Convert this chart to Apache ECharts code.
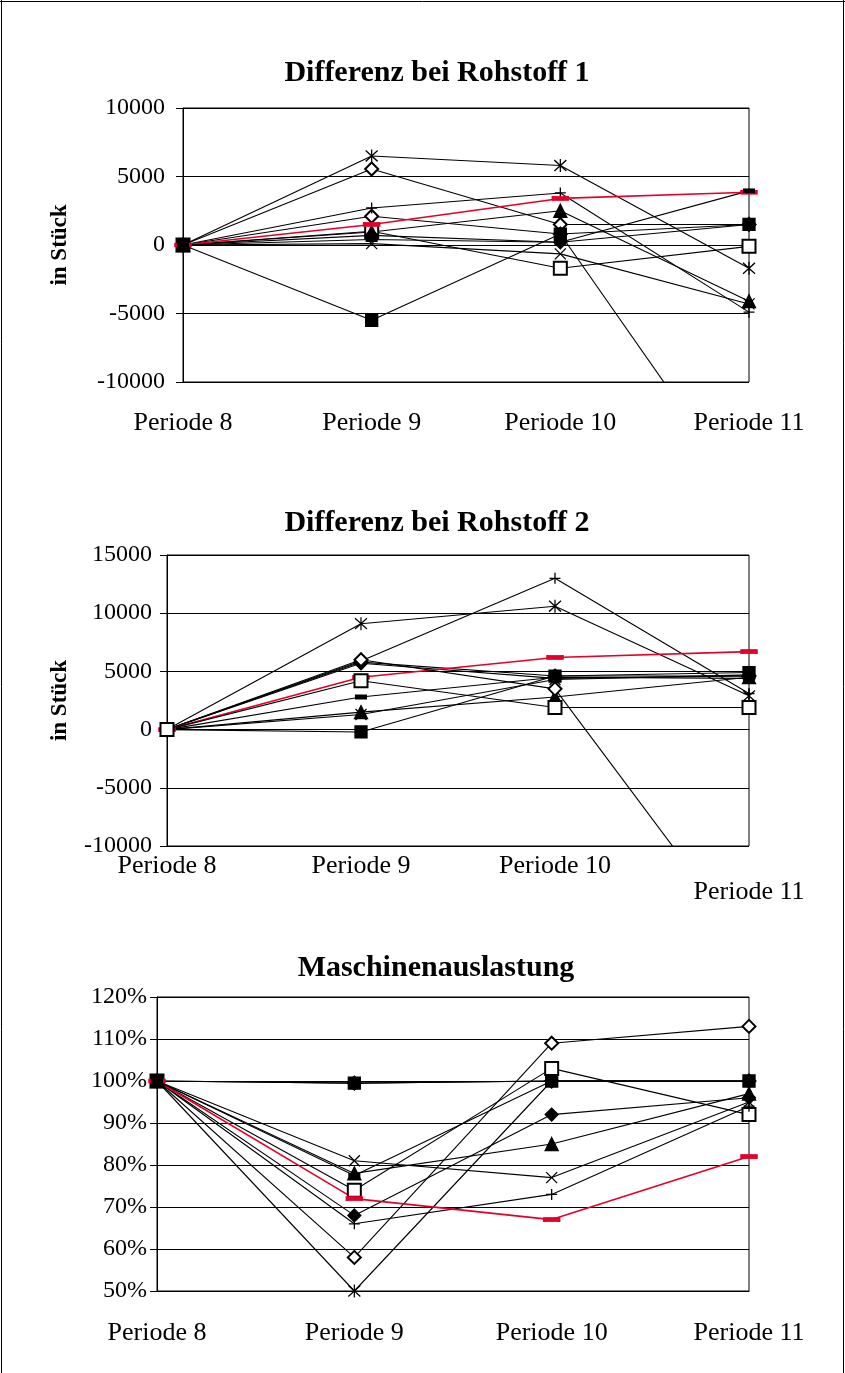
<!DOCTYPE html>
<html>
<head>
<meta charset="utf-8">
<title>Rohstoffe und Maschinenauslastung</title>
<script type="text/javascript" src="https://cdn.jsdelivr.net/npm/echarts@6/dist/echarts.min.js" charset="utf-8"></script>
<style>
	html, body { margin: 0; padding: 0; background: #fff; }
	#main { width: 845px; height: 1373px; }
</style>
</head>
<body>
	<div id="main"></div>
</body>
<script type="text/javascript" charset="utf-8">
	var categories = ['Periode 8', 'Periode 9', 'Periode 10', 'Periode 11'];

	// Differenz bei Rohstoff 1 (in Stück)
	var r1_karoLeer2 = [0, 5550, 1500, 1500];
	var r1_karo = [0, 700, 200, 1500];
	var r1_quadrat = [0, -5500, 800, 1500];
	var r1_dreieck = [0, 950, 2500, -4100];
	var r1_kreuz = [0, 100, -650, -4300];
	var r1_stern = [0, 6500, 5800, -1700];
	var r1_plus = [0, 2700, 3800, -4900];
	var r1_rot = [0, 1500, 3400, 3850];
	var r1_strich = [0, 400, 200, 3950];
	var r1_karoLeer = [0, 2100, 800, -18900];
	var r1_quadratLeer = [0, 1000, -1700, -100];

	// Differenz bei Rohstoff 2 (in Stück)
	var r2_karoLeer2 = [0, 5800, 4600, 4600];
	var r2_karo = [0, 5700, 4400, 4600];
	var r2_quadrat = [0, -200, 4600, 4900];
	var r2_dreieck = [0, 1500, 2800, 4500];
	var r2_kreuz = [0, 1300, 4300, 4700];
	var r2_stern = [0, 9100, 10600, 2900];
	var r2_plus = [0, 5900, 13000, 3100];
	var r2_rot = [0, 4500, 6200, 6700];
	var r2_strich = [0, 2800, 4500, 4400];
	var r2_karoLeer = [0, 6000, 3500, -18800];
	var r2_quadratLeer = [0, 4200, 1900, 1900];

	// Maschinenauslastung (in %)
	var m_karoLeer2 = [100, 99.5, 100, 100];
	var m_karo = [100, 68, 92, 96];
	var m_quadrat = [100, 99.5, 100, 100];
	var m_dreieck = [100, 78, 85, 97];
	var m_kreuz = [100, 81, 77, 95];
	var m_stern = [100, 50, 100, 100];
	var m_plus = [100, 66, 73, 94];
	var m_rot = [100, 72, 67, 82];
	var m_strich = [100, 77.5, 100, 100];
	var m_karoLeer = [100, 58, 109, 113];
	var m_quadratLeer = [100, 74, 103, 92];

	var r1Ticks = { min: -10000, max: 10000, interval: 5000 };
	var r2Ticks = { min: -10000, max: 15000, interval: 5000 };
	var mTicks = { min: 50, max: 120, interval: 10 };

	var RED = '#e3002b';
	var KREUZ = 'path://M0,0L10,10M10,0L0,10';
	var STERN = 'path://M0,1L10,11M10,1L0,11M5,0L5,12';
	var PLUS = 'path://M5,0L5,10M0,5L10,5';

	// Marker je Reihe (Index wie in den data-Listen unten)
	var styles = [
		{ symbol: 'emptyDiamond', size: 13, color: '#000' },   // 0 karoLeer2
		{ symbol: 'diamond', size: 13, color: '#000' },        // 1 karo
		{ symbol: 'rect', size: 12, color: '#000' },           // 2 quadrat
		{ symbol: 'triangle', size: 13, color: '#000' },       // 3 dreieck
		{ symbol: KREUZ, size: 11, color: '#000' },            // 4 kreuz
		{ symbol: STERN, size: [12, 13], color: '#000' },      // 5 stern
		{ symbol: PLUS, size: 11, color: '#000' },             // 6 plus
		{ symbol: 'rect', size: [15, 4], color: RED, width: 1.6 }, // 7 rot
		{ symbol: 'rect', size: [10, 4], color: '#000' },      // 8 strich
		{ symbol: 'emptyDiamond', size: 13, color: '#000' },   // 9 karoLeer
		{ symbol: 'emptyRect', size: 13, color: '#000' }       // 10 quadratLeer
	];

	// Zeichenreihenfolge (spätere liegen oben)
	var order13 = [0, 10, 9, 1, 2, 3, 4, 5, 6, 7, 8];
	var order2 = [0, 1, 2, 3, 4, 5, 6, 7, 8, 9, 10];

	var data1 = [r1_karoLeer2, r1_karo, r1_quadrat, r1_dreieck, r1_kreuz, r1_stern, r1_plus, r1_rot, r1_strich, r1_karoLeer, r1_quadratLeer];
	var data2 = [r2_karoLeer2, r2_karo, r2_quadrat, r2_dreieck, r2_kreuz, r2_stern, r2_plus, r2_rot, r2_strich, r2_karoLeer, r2_quadratLeer];
	var data3 = [m_karoLeer2, m_karo, m_quadrat, m_dreieck, m_kreuz, m_stern, m_plus, m_rot, m_strich, m_karoLeer, m_quadratLeer];

	var FONT = '"Liberation Serif", "Times New Roman", serif';

	function makeSeries(list, idx, order) {
		var out = [];
		for (var k = 0; k < order.length; k++) {
			var i = order[k];
			var s = styles[i];
			out.push({
				type: 'line',
				xAxisIndex: idx,
				yAxisIndex: idx,
				data: list[i],
				symbol: s.symbol,
				symbolSize: s.size,
				showAllSymbol: true,
				clip: true,
				lineStyle: { color: s.color, width: s.width || 1.1 },
				itemStyle: { color: s.color, borderColor: s.color, borderWidth: 1.3 },
				emphasis: { disabled: true }
			});
		}
		return out;
	}

	function xAxis(idx, margin, formatter) {
		return {
			type: 'category',
			gridIndex: idx,
			data: categories,
			boundaryGap: false,
			axisLine: { lineStyle: { color: '#000', width: 1 } },
			axisTick: { show: false },
			axisLabel: { color: '#000', fontFamily: FONT, fontSize: 26, margin: margin, formatter: formatter, interval: 0 },
			splitLine: { show: false }
		};
	}

	function yAxis(idx, ticks, margin, fmt, name, nameGap) {
		return {
			type: 'value',
			gridIndex: idx,
			min: ticks.min,
			max: ticks.max,
			interval: ticks.interval,
			name: name,
			nameLocation: 'middle',
			nameRotate: 90,
			nameGap: nameGap,
			nameTextStyle: { color: '#000', fontFamily: FONT, fontSize: 23, fontWeight: 'bold' },
			axisLine: { show: true, lineStyle: { color: '#000', width: 1 } },
			axisTick: { show: true, length: 7, lineStyle: { color: '#000' } },
			axisLabel: { color: '#000', fontFamily: FONT, fontSize: 24, margin: margin, formatter: fmt },
			splitLine: { show: true, lineStyle: { color: '#000', width: 1 } }
		};
	}

	var dom = document.getElementById('main');
	var myChart = echarts.init(dom, null, { renderer: 'canvas' });

	var titleStyle = { color: '#000', fontFamily: FONT, fontSize: 30, fontWeight: 'bold' };

	var option = {
		backgroundColor: '#fff',
		animation: false,
		title: [
			{ text: 'Differenz bei Rohstoff 1', left: 432, top: 53, textAlign: 'center', textStyle: titleStyle },
			{ text: 'Differenz bei Rohstoff 2', left: 432, top: 503, textAlign: 'center', textStyle: titleStyle },
			{ text: 'Maschinenauslastung', left: 431, top: 948, textAlign: 'center', textStyle: titleStyle }
		],
		grid: [
			{ left: 183, top: 108, width: 566, height: 274, show: true, borderColor: '#000', borderWidth: 1 },
			{ left: 167, top: 555, width: 582, height: 291, show: true, borderColor: '#000', borderWidth: 1 },
			{ left: 157, top: 997, width: 592, height: 294, show: true, borderColor: '#000', borderWidth: 1 }
		],
		xAxis: [
			xAxis(0, 28),
			xAxis(1, 7, function (v, i) { return i === 3 ? '\n' + v : v; }),
			xAxis(2, 29)
		],
		yAxis: [
			yAxis(0, r1Ticks, 18, function (v) { return String(v); }, 'in Stück', 111),
			yAxis(1, r2Ticks, 15, function (v) { return String(v); }, 'in Stück', 95),
			yAxis(2, mTicks, 10, function (v) { return v + '%'; }, '', 0)
		],
		series: [].concat(makeSeries(data1, 0, order13), makeSeries(data2, 1, order2), makeSeries(data3, 2, order13)),
		graphic: [
			{ type: 'line', shape: { x1: 1.5, y1: 0, x2: 1.5, y2: 1373 }, style: { stroke: '#000', lineWidth: 1 } },
			{ type: 'line', shape: { x1: 0, y1: 1.5, x2: 845, y2: 1.5 }, style: { stroke: '#000', lineWidth: 1 } },
			{ type: 'line', shape: { x1: 843.5, y1: 0, x2: 843.5, y2: 1373 }, style: { stroke: '#000', lineWidth: 1 } }
		]
	};

	myChart.setOption(option, true);
</script>
</html>
